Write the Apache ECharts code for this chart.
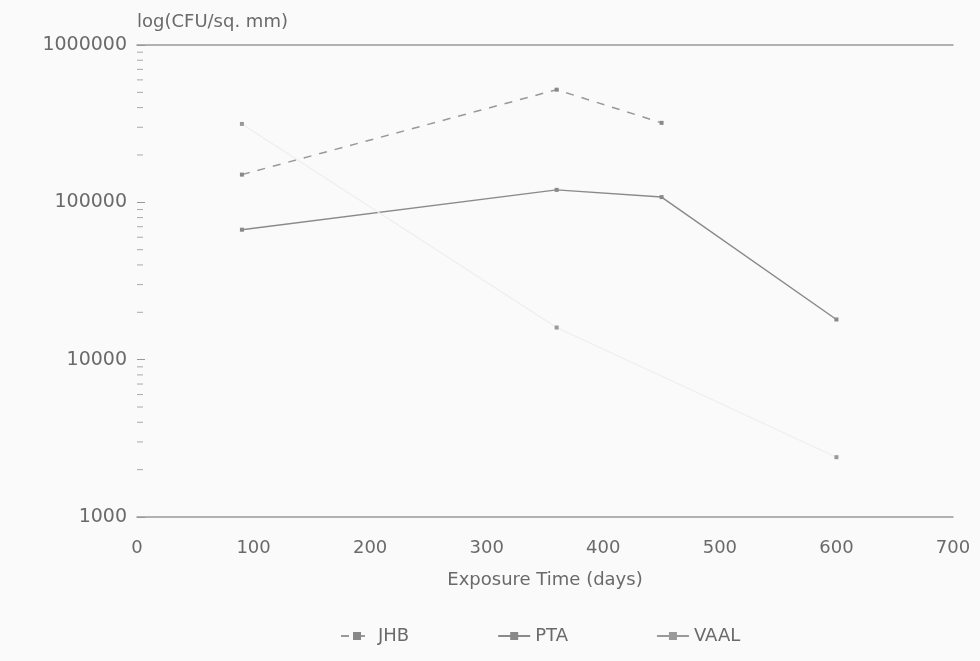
<!DOCTYPE html>
<html><head><meta charset="utf-8">
<script src="https://cdn.jsdelivr.net/npm/echarts@6/dist/echarts.min.js"></script>
<style>html,body{margin:0;padding:0;background:#fafafa}#c{width:980px;height:661px}</style>
</head><body><div id="c"></div>
<script>
const jhb = [[90, 150000], [360, 520000], [450, 320000]];
const pta = [[90, 67000], [360, 120000], [450, 108000], [600, 18000]];
const vaal = [[90, 315000], [360, 16000], [600, 2400]];
const seriesNames = ['JHB', 'PTA', 'VAAL'];
const minorTicks = [];
[1000, 10000, 100000].forEach(function (d) { for (let k = 2; k <= 9; k++) minorTicks.push(d * k); });

const font = 'DejaVu Sans';
const txt = '#6a6a6a';
const chart = echarts.init(document.getElementById('c'));
chart.setOption({
  backgroundColor: '#fafafa',
  animation: false,
  textStyle: { fontFamily: font },
  grid: { left: 137, right: 27, top: 45, bottom: 144 },
  legend: {
    top: 622, left: 335, itemGap: 88, itemWidth: 32, itemHeight: 10,
    textStyle: { color: txt, fontSize: 18, fontFamily: font },
    data: [
      { name: seriesNames[0] },
      { name: seriesNames[1] },
      { name: seriesNames[2], lineStyle: { color: '#999' } }
    ]
  },
  xAxis: [{
    type: 'value', min: 0, max: 700, interval: 100,
    name: 'Exposure Time (days)', nameLocation: 'middle', nameGap: 54,
    nameTextStyle: { color: txt, fontSize: 18, fontFamily: font },
    axisLine: { show: true, lineStyle: { color: '#999', width: 1.5 } },
    axisTick: { show: false },
    axisLabel: { color: txt, fontSize: 18, margin: 22, fontFamily: font },
    splitLine: { show: false }
  }, {
    type: 'value', min: 0, max: 700, position: 'top',
    axisLine: { show: true, lineStyle: { color: '#999', width: 1.5 } },
    axisTick: { show: false }, axisLabel: { show: false }, splitLine: { show: false }
  }],
  yAxis: {
    type: 'log', logBase: 10, min: 1000, max: 1000000,
    name: 'log(CFU/sq. mm)', nameLocation: 'end', nameGap: 14,
    nameTextStyle: { color: txt, fontSize: 18, align: 'left', fontFamily: font },
    axisLine: { show: false },
    axisTick: { show: true, inside: true, length: 8, lineStyle: { color: '#999' } },
    axisLabel: { color: txt, fontSize: 19, margin: 10, fontFamily: font, formatter: function (v) { return String(Math.round(v)); } },
    splitLine: { show: false }
  },
  series: [
    {
      name: 'JHB', type: 'line', data: jhb,
      symbol: 'rect', symbolSize: 4,
      itemStyle: { color: '#888' },
      lineStyle: { color: '#999', width: 1.5, type: [8, 8] }
    },
    {
      name: 'PTA', type: 'line', data: pta,
      symbol: 'rect', symbolSize: 4,
      itemStyle: { color: '#888' },
      lineStyle: { color: '#8a8a8a', width: 1.5 }
    },
    {
      name: 'VAAL', type: 'line', data: vaal,
      symbol: 'rect', symbolSize: 4,
      itemStyle: { color: '#999' },
      lineStyle: { color: '#eeeeee', width: 1.2 }
    },
    {
      type: 'custom', silent: true, clip: false,
      data: minorTicks.map(function (v) { return [0, v]; }),
      renderItem: function (params, api) {
        const p = api.coord([0, api.value(1)]);
        return { type: 'line', shape: { x1: p[0], y1: p[1], x2: p[0] + 6, y2: p[1] }, style: { stroke: '#aaa', lineWidth: 1 } };
      }
    }
  ]
});
</script></body></html>
